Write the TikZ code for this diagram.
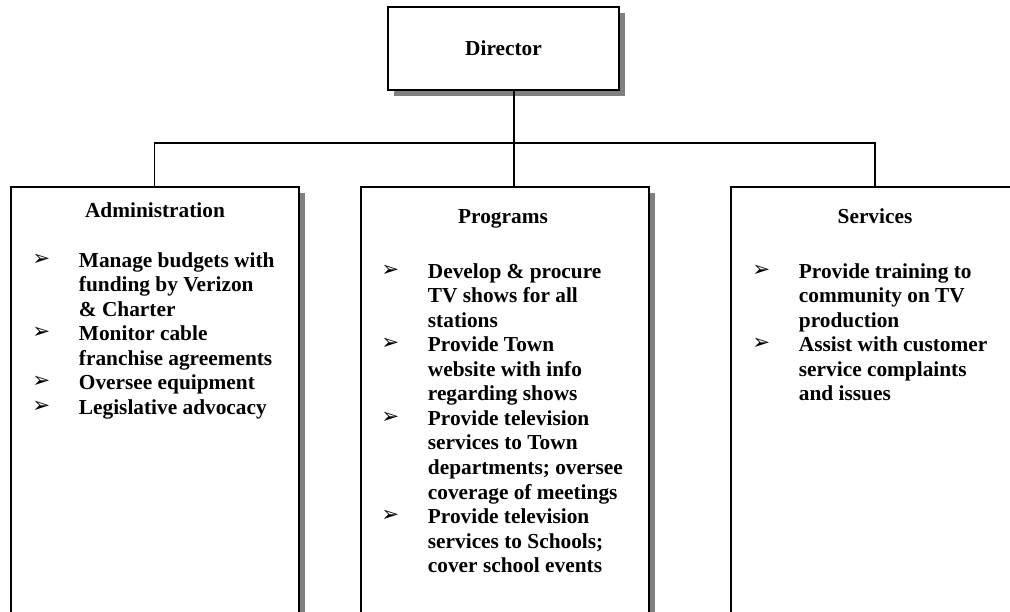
\documentclass[tikz,border=0pt]{standalone}
\usepackage{fontspec}
\setmainfont{Liberation Serif}
\newfontfamily\simbolos{DejaVu Sans}
\usepackage{tikz}
\usetikzlibrary{positioning,shadows}
\newcommand{\flecha}{\raisebox{1.5pt}{\simbolos\fontsize{16}{18}\selectfont ➢}}

\begin{document}
\begin{tikzpicture}[x=0.75pt, y=-0.75pt,
  caja/.style={draw=black, line width=1.5pt, fill=white,
    drop shadow={shadow xshift=4.5pt, shadow yshift=-4.5pt,
      fill=black!50, opacity=1}},
  rama/.style={caja, anchor=north, minimum width=216pt, minimum height=348pt},
  titulo/.style={font=\bfseries\fontsize{16}{18.4}\selectfont, inner sep=0pt, anchor=base},
  lista/.style={font=\bfseries\fontsize{16}{18.4}\selectfont, inner sep=0pt,
    anchor=north west},
  linea/.style={draw=black, line width=1.1pt}
]
\clip (0,0) rectangle (1010,611);
\fill[white] (0,0) rectangle (1010,611);
% Director
\node[caja, minimum width=173pt, minimum height=62pt,
  font=\bfseries\fontsize{16}{18.4}\selectfont] (dir) at (503.5,48.5) {Director};
% Ramas
\node[rama] (adm) at (154.5,186) {};
\node[rama] (prog) at (504.5,186) {};
\node[rama] (serv) at (875,186) {};
% Conectores
\coordinate (nudo) at (514,143);
\draw[linea] (dir.south -| nudo) -- (prog.north -| nudo);
\draw[linea] (adm.north) |- (nudo) -| (serv.north);
% Administracion
\node[titulo] (admt) at (155,217) {Administration};
\node[lista] (adml) at (32,249.8) {\begin{tabular}{@{}p{35pt}@{}l@{}}
\flecha & Manage budgets with\\
 & funding by Verizon\\
 & \& Charter\\
\flecha & Monitor cable\\
 & franchise agreements\\
\flecha & Oversee equipment\\
\flecha & Legislative advocacy
\end{tabular}};
% Programas
\node[titulo] (progt) at (503,223) {Programs};
\node[lista] (progl) at (381,260.8) {\begin{tabular}{@{}p{35pt}@{}l@{}}
\flecha & Develop \& procure\\
 & TV shows for all\\
 & stations\\
\flecha & Provide Town\\
 & website with info\\
 & regarding shows\\
\flecha & Provide television\\
 & services to Town\\
 & departments; oversee\\
 & coverage of meetings\\
\flecha & Provide television\\
 & services to Schools;\\
 & cover school events
\end{tabular}};
% Servicios
\node[titulo] (servt) at (875,223) {Services};
\node[lista] (servl) at (752,260.8) {\begin{tabular}{@{}p{35pt}@{}l@{}}
\flecha & Provide training to\\
 & community on TV\\
 & production\\
\flecha & Assist with customer\\
 & service complaints\\
 & and issues
\end{tabular}};
\end{tikzpicture}
\end{document}
